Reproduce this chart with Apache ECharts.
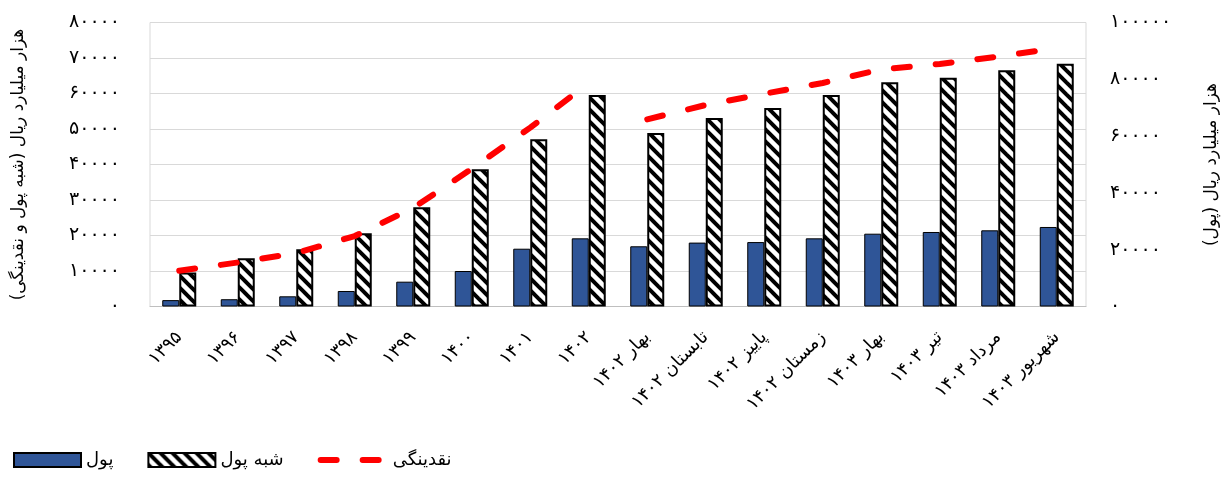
<!DOCTYPE html>
<html>
<head>
<meta charset="utf-8">
<script src="https://cdn.jsdelivr.net/npm/echarts@6/dist/echarts.min.js"></script>
<style>
html,body{margin:0;padding:0;background:#fff;}
#chart{width:1229px;height:478px;}
</style>
</head>
<body>
<div id="chart"></div>
<script>
// ---- data ----
var categories = ['۱۳۹۵','۱۳۹۶','۱۳۹۷','۱۳۹۸','۱۳۹۹','۱۴۰۰','۱۴۰۱','۱۴۰۲',
  'بهار ۱۴۰۲','تابستان ۱۴۰۲','پاییز ۱۴۰۲','زمستان ۱۴۰۲','بهار ۱۴۰۳','تیر ۱۴۰۳','مرداد ۱۴۰۳','شهریور ۱۴۰۳'];
var money      = [1800, 2050, 2870, 4370, 6990, 10000, 16280, 19200, 16960, 18000, 18150, 19200, 20510, 20990, 21460, 22400];
var quasiMoney = [9600, 13580, 16110, 20620, 27940, 38650, 47100, 59600, 48880, 53100, 55920, 59600, 63150, 64460, 66540, 68400];
var liquidityAnnual   = [12600, 15500, 18800, 24800, 34700, 48500, 63000, 78700, null, null, null, null, null, null, null, null];
var liquidityMonthly  = [null, null, null, null, null, null, null, null, 65900, 70950, 74900, 78700, 83500, 85400, 88000, 91000];
var leftTickLabels  = ['۰','۱۰۰۰۰','۲۰۰۰۰','۳۰۰۰۰','۴۰۰۰۰','۵۰۰۰۰','۶۰۰۰۰','۷۰۰۰۰','۸۰۰۰۰'];
var rightTickLabels = ['۰','۲۰۰۰۰','۴۰۰۰۰','۶۰۰۰۰','۸۰۰۰۰','۱۰۰۰۰۰'];
var seriesNames = ['پول','شبه پول','نقدینگی'];
var leftAxisName  = 'هزار میلیارد ریال (شبه پول و نقدینگی)\u200F';
var rightAxisName = 'هزار میلیارد ریال (پول)\u200F';

// ---- hatch pattern ----
function makeHatch() {
  var s = 12;
  var c = document.createElement('canvas');
  c.width = s; c.height = s;
  var ctx = c.getContext('2d');
  ctx.fillStyle = '#ffffff';
  ctx.fillRect(0, 0, s, s);
  ctx.strokeStyle = '#000000';
  ctx.lineWidth = 4;
  for (var k = -1; k <= 1; k++) {
    ctx.beginPath();
    ctx.moveTo(k * s - 3, -3);
    ctx.lineTo(k * s + s + 3, s + 3);
    ctx.stroke();
  }
  return c;
}

var FONT = 'DejaVu Sans';
var chart = echarts.init(document.getElementById('chart'), null, {renderer: 'canvas'});
var lineStyle = {color: '#FF0000', width: 6, type: [16, 26], cap: 'round'};

chart.setOption({
  animation: false,
  backgroundColor: '#ffffff',
  textStyle: {fontFamily: FONT, color: '#000'},
  grid: {left: 150, right: 143, top: 22.5, bottom: 171.5, show: true, borderColor: '#D9D9D9', borderWidth: 1,
         outerBoundsMode: 'none', containLabel: false},
  legend: {
    data: [
      {name: seriesNames[0], icon: 'rect'},
      {name: seriesNames[1], icon: 'rect'},
      {name: seriesNames[2], itemStyle: {opacity: 0}, lineStyle: {color: '#FF0000', width: 6, type: [16, 26], cap: 'round'}}
    ],
    left: 13, top: 451, padding: 0,
    itemWidth: 67, itemHeight: 14, itemGap: 34,
    textStyle: {fontFamily: FONT, fontSize: 18, color: '#000'}
  },
  xAxis: {
    type: 'category',
    data: categories,
    axisLine: {lineStyle: {color: '#BFBFBF', width: 1}},
    axisTick: {show: false},
    axisLabel: {rotate: 45, margin: 28, fontSize: 18, color: '#000', fontFamily: FONT, interval: 0}
  },
  yAxis: [
    {
      type: 'value', min: 0, max: 80000, interval: 10000,
      name: leftAxisName, nameLocation: 'middle', nameRotate: 90, nameGap: 123,
      nameTextStyle: {fontSize: 17, color: '#000', fontFamily: FONT},
      axisLine: {show: false}, axisTick: {show: false},
      splitLine: {lineStyle: {color: '#D9D9D9', width: 1}},
      axisLabel: {margin: 30, fontSize: 19, color: '#000', fontFamily: FONT,
        formatter: function (v, i) { return leftTickLabels[Math.round(v / 10000)]; }}
    },
    {
      type: 'value', min: 0, max: 100000, interval: 20000,
      name: rightAxisName, nameLocation: 'middle', nameRotate: 90, nameGap: 117,
      nameTextStyle: {fontSize: 17, color: '#000', fontFamily: FONT},
      axisLine: {show: false}, axisTick: {show: false},
      splitLine: {show: false},
      axisLabel: {margin: 24, fontSize: 19, color: '#000', fontFamily: FONT, padding: [0, 0, 13, 0],
        formatter: function (v, i) { return rightTickLabels[Math.round(v / 20000)]; }}
    }
  ],
  series: [
    {
      name: seriesNames[0], type: 'bar', yAxisIndex: 0, data: money,
      barWidth: 17, barGap: '0%',
      itemStyle: {color: '#2F5597', borderColor: '#000', borderWidth: 1}
    },
    {
      name: seriesNames[1], type: 'bar', yAxisIndex: 0, data: quasiMoney,
      barWidth: 17,
      itemStyle: {color: {image: makeHatch(), repeat: 'repeat'}, borderColor: '#000', borderWidth: 2}
    },
    {
      name: seriesNames[2], type: 'line', yAxisIndex: 1, data: liquidityAnnual,
      symbol: 'none', connectNulls: false, z: 5, color: '#FF0000', lineStyle: lineStyle
    },
    {
      name: seriesNames[2], type: 'line', yAxisIndex: 1, data: liquidityMonthly,
      symbol: 'none', connectNulls: false, z: 5, color: '#FF0000', lineStyle: lineStyle
    }
  ]
});
</script>
</body>
</html>
